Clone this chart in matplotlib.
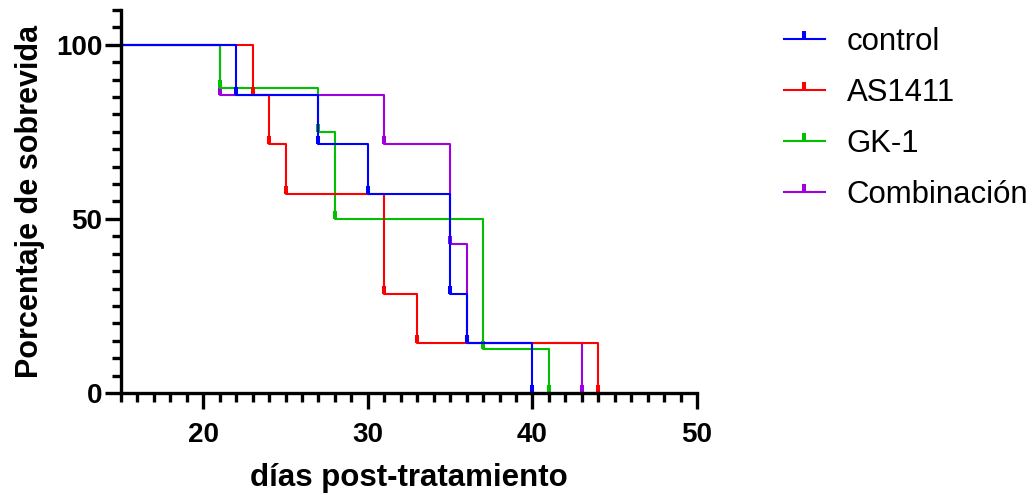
import numpy as np
import matplotlib
matplotlib.use('Agg')
import matplotlib.pyplot as plt
from matplotlib.path import Path
from matplotlib.ticker import MultipleLocator

plt.rcParams['font.family'] = ['Liberation Sans', 'DejaVu Sans']

# survival data (Kaplan-Meier steps)
groups = ['control', 'AS1411', 'GK-1', 'Combinación']
colors = ['#0000FF', '#FF0000', '#00C000', '#A000E0']

control_t = [0, 22, 27, 30, 35, 36, 40]
control_s = [100, 85.71, 71.43, 57.14, 28.57, 14.29, 0]

as1411_t = [0, 23, 24, 25, 31, 33, 44]
as1411_s = [100, 85.71, 71.43, 57.14, 28.57, 14.29, 0]

gk1_t = [0, 21, 27, 28, 37, 41]
gk1_s = [100, 87.5, 75.0, 50.0, 12.5, 0]

combo_t = [0, 21, 31, 35, 36, 43]
combo_s = [100, 85.71, 71.43, 42.86, 14.29, 0]

times = [control_t, as1411_t, gk1_t, combo_t]
survs = [control_s, as1411_s, gk1_s, combo_s]

xticks = [20, 30, 40, 50]
yticks = [0, 50, 100]

# tick mark pointing up from the data point
tick_marker = Path([(0, 0), (0, 1)])

fig = plt.figure(figsize=(10.36, 4.95), dpi=100)
ax = fig.add_axes([0.1168, 0.206, 0.556, 0.774])

handles = [None] * len(groups)
for i in reversed(range(len(groups))):
    h, = ax.step(times[i], survs[i], where='post', color=colors[i], lw=1.5,
                 marker=tick_marker, markersize=11.5, markeredgewidth=2.9,
                 markeredgecolor=colors[i], label=groups[i])
    handles[i] = h

ax.set_xlim(15, 50)
ax.set_ylim(0, 110)
ax.set_xticks(xticks)
ax.set_yticks(yticks)
ax.xaxis.set_minor_locator(MultipleLocator(1))
ax.yaxis.set_minor_locator(MultipleLocator(5))

for s in ['top', 'right']:
    ax.spines[s].set_visible(False)
for s in ['left', 'bottom']:
    ax.spines[s].set_linewidth(2.4)

ax.tick_params(which='major', length=11.5, width=2.4, labelsize=20, pad=2)
ax.tick_params(which='minor', length=6.5, width=2.4)
ax.tick_params(axis='x', which='major', pad=9)
for lab in ax.get_xticklabels() + ax.get_yticklabels():
    lab.set_fontweight('bold')

ax.set_xlabel('días post-tratamiento', fontsize=22.5, fontweight='bold', labelpad=11)
ax.set_ylabel('Porcentaje de sobrevida', fontsize=22, fontweight='bold', labelpad=8)

fig.legend(handles=handles, labels=groups, loc='upper left',
           bbox_to_anchor=(0.757, 0.945), frameon=False, fontsize=22.4,
           handlelength=1.3, handletextpad=0.7, labelspacing=0.67,
           borderaxespad=0, borderpad=0)

fig.savefig('out.png', dpi=100)
